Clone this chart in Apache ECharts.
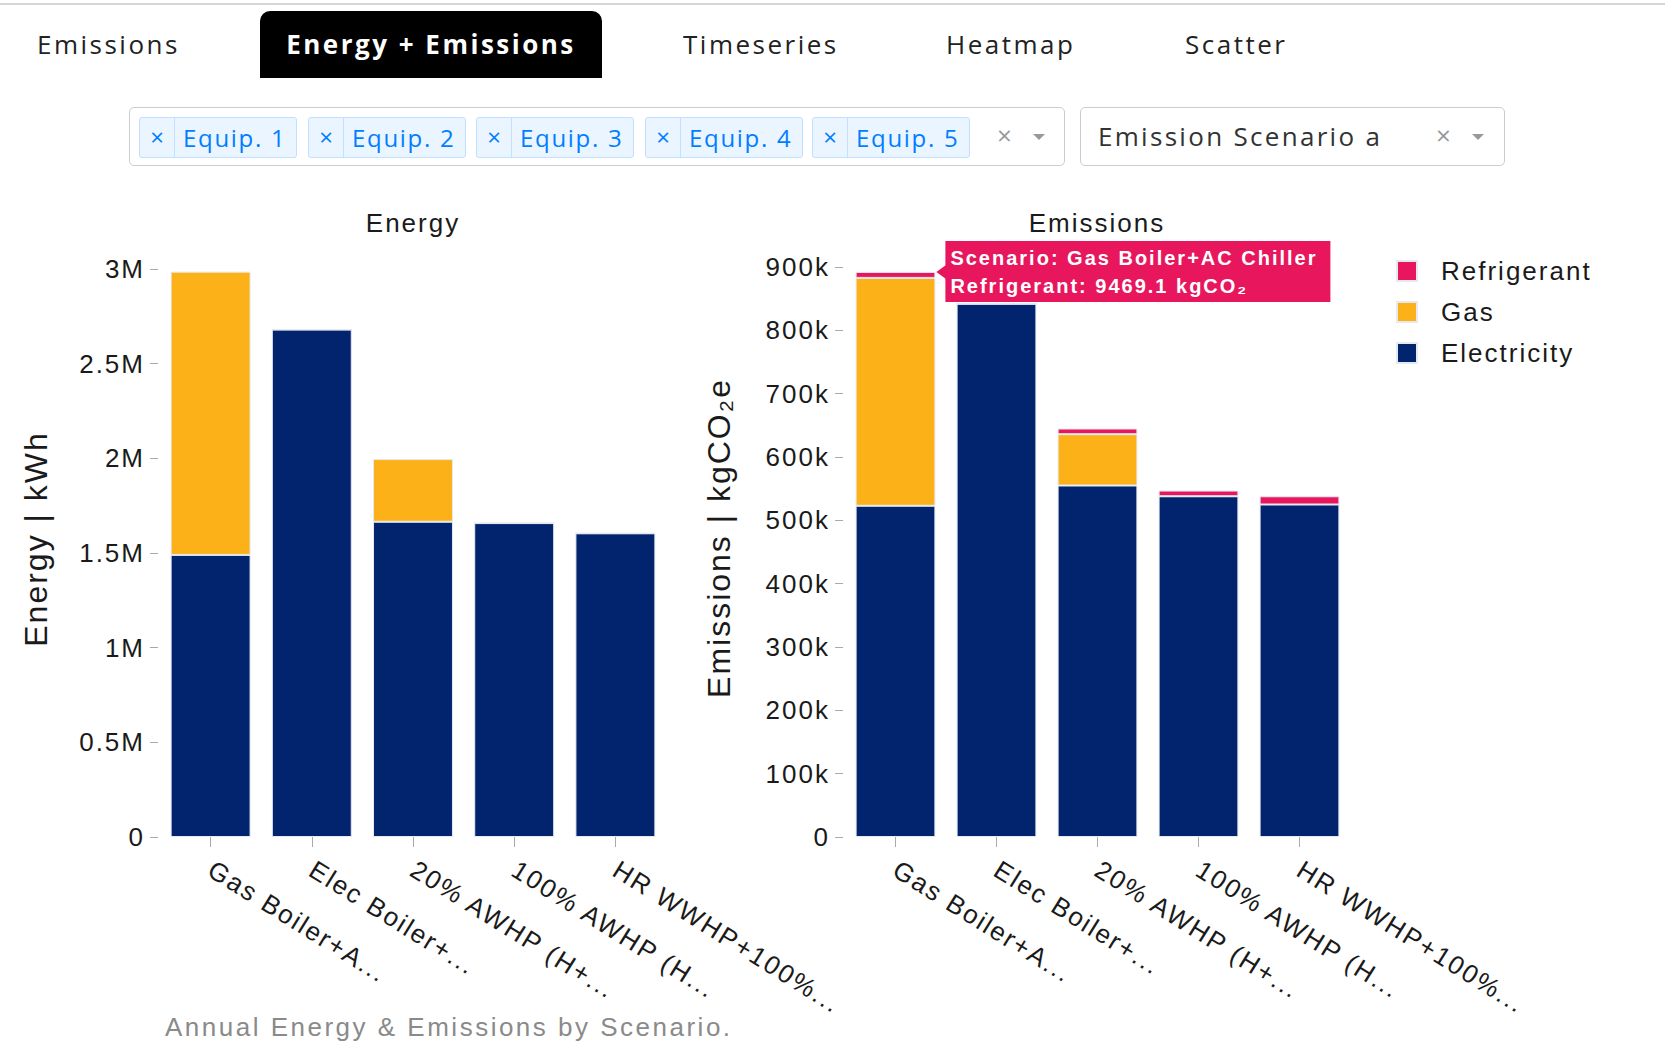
<!DOCTYPE html>
<html>
<head>
<meta charset="utf-8">
<title>Energy + Emissions</title>
<script src="https://cdn.jsdelivr.net/npm/echarts@6/dist/echarts.min.js"></script>
<style>
    html, body { margin: 0; padding: 0; background: #fff; }
    body { width: 1665px; height: 1052px; position: relative; overflow: hidden; font-family: "Open Sans", "Noto Sans", sans-serif; }
    #chart { position: absolute; left: 0; top: 0; width: 1665px; height: 1052px; }
    #chart text { letter-spacing: 2px; }
    .topline { position: absolute; left: 0; top: 3px; width: 1665px; height: 2px; background: #d6d6d6; }
    .tab { position: absolute; top: 11px; height: 67px; line-height: 67px; font-size: 26px; letter-spacing: 2.5px; color: #222; white-space: nowrap; }
    .tab.active { left: 260px; width: 342px; background: #000; color: #fff; font-weight: bold; text-align: center; border-radius: 10px 10px 0 0; }
    .select { position: absolute; top: 107px; height: 59px; border: 1px solid #ccc; border-radius: 5px; box-sizing: border-box; background: #fff; }
    .tag { position: absolute; top: 117px; height: 41px; width: 158px; box-sizing: border-box; border: 1px solid #c2e0ff; background: #ebf5ff; border-radius: 3px; color: #007eff; font-size: 24px; letter-spacing: 1.7px; white-space: nowrap; }
    .tag .x { position: absolute; left: 0; top: 0; width: 34px; height: 39px; line-height: 38px; text-align: center; border-right: 1px solid #c2e0ff; font-size: 24px; letter-spacing: 0; }
    .tag .lbl { position: absolute; left: 43px; top: 0; line-height: 39px; }
    .clear { position: absolute; top: 107px; height: 59px; line-height: 57px; color: #999; font-size: 26px; }
    .arrow { position: absolute; top: 134px; width: 0; height: 0; border-left: 6px solid transparent; border-right: 6px solid transparent; border-top: 6px solid #999; }
    .selval { position: absolute; left: 1098px; top: 107px; line-height: 59px; font-size: 26px; letter-spacing: 2.3px; color: #333; white-space: nowrap; }
    .caption { position: absolute; left: 165px; top: 1010px; line-height: 34px; font-family: "Liberation Sans", Arial, sans-serif; font-size: 26px; letter-spacing: 2.5px; color: #8a8a8a; white-space: nowrap; }
</style>
</head>
<body>
<div id="chart"></div>

<div class="topline"></div>
<div class="tab" style="left:37px;">Emissions</div>
<div class="tab active">Energy + Emissions</div>
<div class="tab" style="left:683px;">Timeseries</div>
<div class="tab" style="left:946px;">Heatmap</div>
<div class="tab" style="left:1185px;">Scatter</div>

<div class="select" style="left:129px; width:936px;"></div>
<div class="tag" style="left:139px;"><span class="x">×</span><span class="lbl">Equip. 1</span></div>
<div class="tag" style="left:308px;"><span class="x">×</span><span class="lbl">Equip. 2</span></div>
<div class="tag" style="left:476px;"><span class="x">×</span><span class="lbl">Equip. 3</span></div>
<div class="tag" style="left:645px;"><span class="x">×</span><span class="lbl">Equip. 4</span></div>
<div class="tag" style="left:812px;"><span class="x">×</span><span class="lbl">Equip. 5</span></div>
<div class="clear" style="left:997px;">×</div>
<div class="arrow" style="left:1033px;"></div>

<div class="select" style="left:1080px; width:425px;"></div>
<div class="selval">Emission Scenario a</div>
<div class="clear" style="left:1436px;">×</div>
<div class="arrow" style="left:1472px;"></div>

<div class="caption">Annual Energy &amp; Emissions by Scenario.</div>

<script>
    /*== 数据 ==*/
    var scenarios = ['Gas Boiler+A...', 'Elec Boiler+...', '20% AWHP (H+...', '100% AWHP (H...', 'HR WWHP+100%...'];
    var hoverScenario = 'Gas Boiler+AC Chiller';

    // Energy | kWh
    var energyElec = [1490000, 2680000, 1665000, 1658000, 1604000];
    var energyGas = [1496000, 0, 331000, 0, 0];
    var energyTicks = ['0', '0.5M', '1M', '1.5M', '2M', '2.5M', '3M'];

    // Emissions | kgCO2e
    var emisElec = [523000, 842000, 555000, 538000, 525000];
    var emisGas = [359800, 0, 81000, 0, 0];
    var emisRefrig = [9469.1, 0, 9000, 9000, 13000];
    var emisTicks = ['0', '100k', '200k', '300k', '400k', '500k', '600k', '700k', '800k', '900k'];

    var cElec = '#02246f';
    var cGas = '#fbb117';
    var cRefrig = '#e8175d';
    var fontFamily = '"Liberation Sans", Arial, sans-serif';
    var textColor = '#1a1a1a';

    var barStyle = function(color){
        return { color: color, borderColor: '#e6e9f0', borderWidth: 1 };
    };

    var xAxisBase = function(idx){
        return {
            type: 'category',
            gridIndex: idx,
            data: scenarios,
            axisLine: { show: false },
            axisTick: { show: true, alignWithLabel: true, length: 10, lineStyle: { color: '#aaa' } },
            axisLabel: { interval: 0, rotate: -32, margin: 30, fontSize: 26, color: textColor, fontFamily: fontFamily }
        };
    };

    var yAxisBase = function(idx, max, step, ticks, name, gap){
        return {
            type: 'value',
            gridIndex: idx,
            min: 0,
            max: max,
            interval: step,
            offset: 2,
            name: name,
            nameLocation: 'middle',
            nameGap: gap,
            nameTextStyle: { fontSize: 32, color: textColor, fontFamily: fontFamily, padding: [0, 0, 0, 28] },
            axisLine: { show: false },
            axisTick: { show: true, length: 8, lineStyle: { color: '#aaa' } },
            splitLine: { show: false },
            axisLabel: {
                margin: 13, fontSize: 26, color: textColor, fontFamily: fontFamily,
                formatter: function(v, i){ return ticks[i]; }
            }
        };
    };

    var option = {
        animation: false,
        textStyle: { fontFamily: fontFamily },
        title: [
            { text: 'Energy', left: 413, top: 210, padding: 0, textAlign: 'center',
              textStyle: { fontSize: 26, fontWeight: 'normal', color: textColor, fontFamily: fontFamily } },
            { text: 'Emissions', left: 1097, top: 210, padding: 0, textAlign: 'center',
              textStyle: { fontSize: 26, fontWeight: 'normal', color: textColor, fontFamily: fontFamily } }
        ],
        legend: {
            orient: 'vertical',
            left: 1396,
            top: 258,
            padding: 0,
            itemWidth: 20,
            itemHeight: 20,
            itemGap: 15,
            icon: 'rect',
            data: ['Refrigerant', 'Gas', 'Electricity'],
            textStyle: { fontSize: 26, color: textColor, fontFamily: fontFamily, padding: [0, 0, 0, 19] }
        },
        grid: [
            { left: 160, top: 269, width: 506, height: 568 },
            { left: 845, top: 267, width: 505, height: 570 }
        ],
        xAxis: [xAxisBase(0), xAxisBase(1)],
        yAxis: [
            yAxisBase(0, 3000000, 500000, energyTicks, 'Energy | kWh', 106),
            yAxisBase(1, 900000, 100000, emisTicks, 'Emissions | kgCO₂e', 108)
        ],
        series: [
            { name: 'Electricity', type: 'bar', stack: 'energy', xAxisIndex: 0, yAxisIndex: 0,
              barCategoryGap: '21%', itemStyle: barStyle(cElec), data: energyElec },
            { name: 'Gas', type: 'bar', stack: 'energy', xAxisIndex: 0, yAxisIndex: 0,
              barCategoryGap: '21%', itemStyle: barStyle(cGas), data: energyGas },
            { name: 'Electricity', type: 'bar', stack: 'emis', xAxisIndex: 1, yAxisIndex: 1,
              barCategoryGap: '21%', itemStyle: barStyle(cElec), data: emisElec },
            { name: 'Gas', type: 'bar', stack: 'emis', xAxisIndex: 1, yAxisIndex: 1,
              barCategoryGap: '21%', itemStyle: barStyle(cGas), data: emisGas },
            { name: 'Refrigerant', type: 'bar', stack: 'emis', xAxisIndex: 1, yAxisIndex: 1,
              barCategoryGap: '21%', itemStyle: barStyle(cRefrig), data: emisRefrig }
        ]
    };

    var myChart = echarts.init(document.getElementById('chart'), null, { renderer: 'svg' });
    myChart.setOption(option);

    /*== 悬停提示框（固定在第一个场景的 Refrigerant 上） ==*/
    var topVal = emisElec[0] + emisGas[0] + emisRefrig[0];
    var p0 = myChart.convertToPixel({ xAxisIndex: 1, yAxisIndex: 1 }, [0, topVal]);
    var p1 = myChart.convertToPixel({ xAxisIndex: 1, yAxisIndex: 1 }, [1, topVal]);
    var halfBar = (p1[0] - p0[0]) * 0.79 / 2;
    var tipX = p0[0] + halfBar + 2;
    var tipY = p0[1];
    var tipText = function(str, dy){
        return {
            type: 'text', x: tipX + 13, y: tipY + dy, z: 101,
            style: { text: str, fill: '#fff', fontSize: 20, fontWeight: 'bold', fontFamily: fontFamily, textVerticalAlign: 'middle' }
        };
    };
    myChart.setOption({
        graphic: [
            { type: 'polygon', z: 100, shape: { points: [[tipX - 1, tipY], [tipX + 10, tipY - 8], [tipX + 10, tipY + 8]] }, style: { fill: cRefrig } },
            { type: 'rect', z: 100, shape: { x: tipX + 8, y: tipY - 31, width: 385, height: 61 }, style: { fill: cRefrig } },
            tipText('Scenario: ' + hoverScenario, -14),
            tipText('Refrigerant: ' + emisRefrig[0].toFixed(1) + ' kgCO₂', 14)
        ]
    });
</script>
</body>
</html>
